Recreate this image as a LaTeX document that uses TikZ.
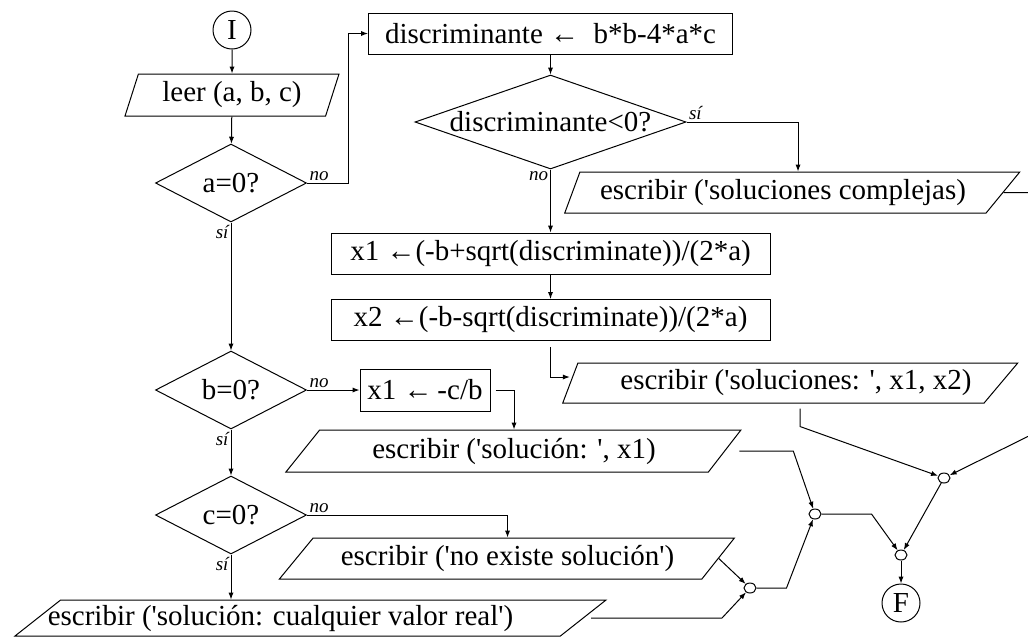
\documentclass[tikz,border=0pt]{standalone}
\usepackage{fontspec}
\setmainfont{Liberation Serif}[Ligatures=TeXOff]
\usetikzlibrary{shapes.geometric,arrows.meta}

\tikzstyle{inout}=[draw,trapezium,trapezium stretches body,inner xsep=0pt,inner ysep=0pt]
\tikzstyle{proc}=[draw,rectangle,inner xsep=2pt,inner ysep=0pt]
\tikzstyle{decision}=[draw,diamond,inner sep=0pt]
\tikzstyle{terminal}=[draw,circle,minimum size=19pt,inner sep=0pt]
\tikzstyle{junction}=[draw,ellipse,minimum width=6pt,minimum height=5pt,inner sep=0pt]
\tikzstyle{lbl}=[font=\fontsize{9.5}{11}\selectfont\itshape,inner sep=1pt]
\tikzstyle{flow}=[->]

\begin{document}
\begin{tikzpicture}[x=0.5pt,y=-0.5pt,>={Latex[length=3.5pt,width=2.6pt]},line width=0.5pt,
  font=\fontsize{14.5}{17}\selectfont]
\clip (0,0) rectangle (1028,639);

\node (I)[terminal] at (232,30) {I};
\node (leer)[inout,trapezium left angle=63,trapezium right angle=117,minimum height=21pt,minimum width=107pt] at (232,95) {leer (a, b, c)};
\node (a0)[decision,minimum width=75.5pt,minimum height=39pt] at (231,183) {\makebox[0pt]{a=0?}};
\node (b0)[decision,minimum width=75.5pt,minimum height=39pt] at (231,390) {\makebox[0pt]{b=0?}};
\node (c0)[decision,minimum width=75.5pt,minimum height=39pt] at (231,515) {\makebox[0pt]{c=0?}};
\node (cualq)[inout,trapezium left angle=30,trapezium right angle=150,minimum height=18pt,minimum width=295.5pt] at (310.5,618) {\makebox[0pt]{escribir ('solución: cualquier valor real')\hspace{30pt}}};

\node (disc)[proc,minimum width=182pt,minimum height=20.5pt] at (550.5,33.5) {discriminante ←\ \ b*b-4*a*c};
\node (dneg)[decision,minimum width=135.5pt,minimum height=47pt] at (550.5,122) {\makebox[0pt]{discriminante<0?}};
\node (compl)[inout,trapezium left angle=60,trapezium right angle=142,minimum height=20.5pt,minimum width=227.5pt] at (783,192.5) {escribir ('soluciones complejas)};
\node (xone)[proc,minimum width=219.5pt,minimum height=20.5pt] at (550.5,253.5) {x1 ←(-b+sqrt(discriminate))/(2*a)};
\node (xtwo)[proc,minimum width=219.5pt,minimum height=20.5pt] at (550.5,320) {x2 ←(-b-sqrt(discriminate))/(2*a)};
\node (solx)[inout,trapezium left angle=60,trapezium right angle=142,minimum height=20pt,minimum width=227.5pt] at (781,383) {\makebox[0pt]{\hspace{15pt}escribir ('soluciones: ', x1, x2)}};

\node (xcb)[proc,minimum width=65pt,minimum height=21pt] at (425,390) {x1 ←\,-c/b};
\node (solone)[inout,trapezium left angle=38,trapezium right angle=141,minimum height=21pt,minimum width=227.5pt] at (514,451) {escribir ('solución: ', x1)};
\node (noex)[inout,trapezium left angle=38,trapezium right angle=141,minimum height=20.5pt,minimum width=227.5pt] at (507.5,558.5) {escribir ('no existe solución')};

\node (j1)[junction] at (750,588) {};
\node (j2)[junction] at (815,514) {};
\node (j3)[junction] at (944,478) {};
\node (j4)[junction] at (901,555) {};
\node (F)[terminal] at (901,603) {F};

\draw[flow] (I) -- (leer);
\draw[flow] (leer) -- (a0);
\draw[flow] (a0.east) -- node[lbl,at start,anchor=south west]{no} ++(41,0) |- (disc.west);
\draw[flow] (a0.south) -- node[lbl,at start,anchor=north east]{sí} (b0.north);
\draw[flow] (b0.east) -- node[lbl,at start,anchor=south west]{no} (xcb.west);
\draw[flow] (b0.south) -- node[lbl,at start,anchor=north east]{sí} (c0.north);
\draw[flow] (c0.east) -| node[lbl,at start,anchor=south west]{no} (noex.north);
\draw[flow] (c0.south) -- node[lbl,at start,anchor=north east]{sí} (c0.south |- cualq.north);
\draw[flow] ([xshift=2.5pt]xcb.east) -| (solone.north);

\draw[flow] (disc) -- (dneg);
\draw[flow] (dneg.east) -| node[lbl,at start,anchor=south west]{sí} ([xshift=7.5pt]compl.north);
\draw[flow] (dneg.south) -- node[lbl,at start,anchor=north east]{no} (xone.north);
\draw[flow] (xone) -- (xtwo);
\draw[flow] ([yshift=-3pt]xtwo.south) |- ([yshift=3pt]solx.left side);

\draw[flow] (compl.right side) -| (1045,428) -- (j3);
\draw[flow] ([xshift=9.5pt,yshift=-2.5pt]solx.south) -- ++(0,18) -- (j3);
\draw[flow] ([xshift=7pt]solone.right side) -- ++(54,0) -- (j2);
\draw[flow] (noex.right side) -- (j1);
\draw[flow] ([xshift=3.5pt]cualq.right side) -- ++(131,0) -- (j1);
\draw[flow] (j1.east) -- ++(30,0) -- (j2);
\draw[flow] (j2.east) -- ++(50,0) -- (j4);
\draw[flow] (j3) -- (j4);
\draw[flow] (j4) -- (F);
\end{tikzpicture}
\end{document}
